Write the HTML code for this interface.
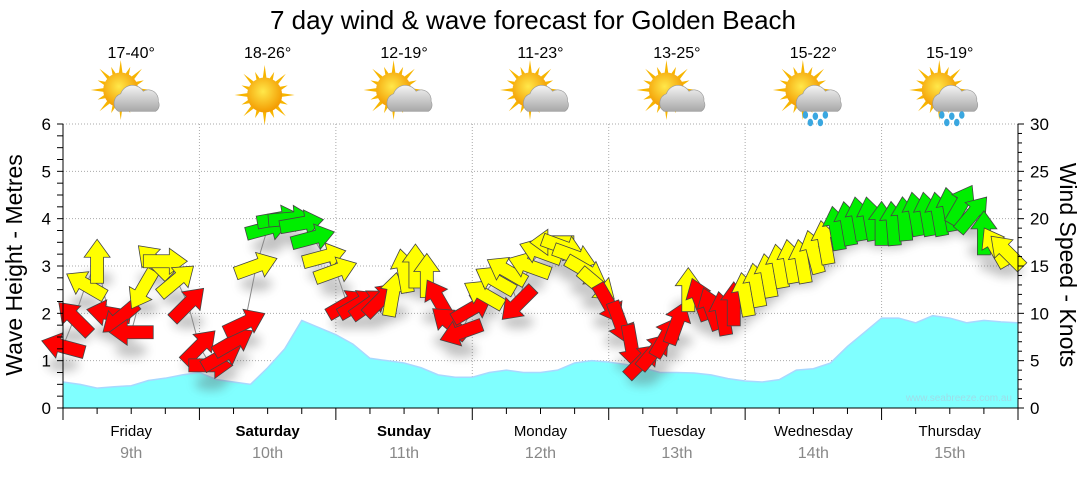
<!DOCTYPE html>
<html><head><meta charset="utf-8">
<style>
html,body{margin:0;padding:0;background:#fff;}
body{width:1080px;height:475px;overflow:hidden;font-family:"Liberation Sans",Arial,sans-serif;}
</style></head>
<body>
<svg id="chart" width="1080" height="475" viewBox="0 0 1080 475" xmlns="http://www.w3.org/2000/svg" font-family="Liberation Sans, Arial, sans-serif">
<defs>
<filter id="sh" x="-50%" y="-50%" width="200%" height="200%"><feGaussianBlur stdDeviation="5"/></filter>
<radialGradient id="sun" cx="45%" cy="40%" r="60%"><stop offset="0" stop-color="#ffe84a"/><stop offset="1" stop-color="#f39a00"/></radialGradient>
<linearGradient id="cloud" x1="0" y1="0" x2="0" y2="1"><stop offset="0" stop-color="#f4f4f4"/><stop offset="1" stop-color="#a8a8a8"/></linearGradient>
</defs>
<text x="533" y="29" font-size="26" text-anchor="middle" fill="#000">7 day wind &amp; wave forecast for Golden Beach</text>
<g id="grid"></g>
<g id="wave"></g>
<g id="windg"></g>
<g id="axes"></g>
<g id="icons"></g>
<text transform="translate(22,265) rotate(-90)" font-size="23" text-anchor="middle">Wave Height - Metres</text>
<text transform="translate(1060,265) rotate(90)" font-size="23" text-anchor="middle">Wind Speed - Knots</text>
<text x="1012" y="401" font-size="10" text-anchor="end" fill="#9edde8">www.seabreeze.com.au</text>
</svg>
<script>
const days=["Friday","Saturday","Sunday","Monday","Tuesday","Wednesday","Thursday"];
const dates=["9th","10th","11th","12th","13th","14th","15th"];
const temps=["17-40°","18-26°","12-19°","11-23°","13-25°","15-22°","15-19°"];
const weather=["cloudsun","sun","cloudsun","cloudsun","cloudsun","rain","rain"];
const boldDays=[false,true,true,false,false,false,false];
// wave height metres, every 3 hours
const waveHeight=[0.55,0.5,0.42,0.45,0.47,0.58,0.63,0.7,0.75,0.6,0.55,0.5,0.85,1.25,1.85,1.7,1.55,1.35,1.05,1.0,0.95,0.85,0.7,0.65,0.65,0.75,0.8,0.75,0.75,0.8,0.95,1.0,0.97,0.92,0.85,0.75,0.75,0.74,0.7,0.62,0.57,0.55,0.6,0.8,0.83,0.95,1.3,1.6,1.9,1.9,1.8,1.95,1.9,1.8,1.85,1.82,1.8];
// wind speed knots, every 2 hours
const windSpeed=[6.5,9.5,13,15.5,10,9.5,8,12.5,15.5,15.5,13.5,11,
6.5,4.5,5.5,7,9,15,19,20,20,19.5,18,16,
14.5,11,11,11,11.5,12,14.5,15,14,11.5,9,8,
10.5,12,13.5,14.5,11,15,16.5,17.5,17,16,14.5,13,
11,9,6.5,5,6,7.5,9,12.5,11.5,10.5,10,11,
12,13,14,15,15.5,15.5,16.5,17.5,19,19.5,20,20,
19.5,19.5,20,20.5,20.5,20.5,21,21.5,20.5,18.5,17,16.5];
// arrow direction, screen degrees (0 = right, -90 = up)
const windDir=[-165,-135,-150,-90,-170,140,180,120,-135,0,-40,-45,
-45,0,-30,-30,-25,-20,-15,-10,-5,-10,-15,-15,
-20,-30,-30,-35,-45,-80,-100,-90,-90,-120,-140,160,
-30,-150,-150,-150,135,-160,-160,180,20,20,30,40,
60,70,80,-45,-50,-60,-70,-90,-110,-110,-100,-90,
-100,-100,-100,-100,-100,-100,-105,-100,-100,-100,-100,-100,
-90,-95,-95,-100,-100,-100,-100,-60,-50,-90,-120,-135];
const yTicksL=[0,1,2,3,4,5,6];
const yTicksR=[0,5,10,15,20,25,30];

const NS="http://www.w3.org/2000/svg";
const X0=63,X1=1018,Y0=408,Y1=124;
const dayW=(X1-X0)/7;
const xH=h=>X0+h*(X1-X0)/168;
const yM=m=>Y0-m*(Y0-Y1)/6;
const yK=k=>Y0-k*(Y0-Y1)/30;
function mk(tag,attrs,parent){const e=document.createElementNS(NS,tag);for(const k in attrs)e.setAttribute(k,attrs[k]);parent.appendChild(e);return e;}

const grid=document.getElementById('grid'),axes=document.getElementById('axes');
yTicksL.forEach(v=>{if(v>0){const g=mk('line',{x1:X0,x2:X1,y1:yM(v),y2:yM(v),stroke:'#aaa','stroke-dasharray':'1,2'},grid);

}
const t=mk('text',{x:X0-12,y:yM(v)+6,'font-size':17,'text-anchor':'end'},axes);t.textContent=v;

});
yTicksR.forEach(v=>{const t=mk('text',{x:X1+12,y:yK(v)+6,'font-size':17},axes);t.textContent=v;

});
for(let d=1;d<7;d++){const g=mk('line',{x1:X0+d*dayW,x2:X0+d*dayW,y1:Y1,y2:Y0,stroke:'#aaa','stroke-dasharray':'1,2'},grid);

}
const wave=document.getElementById('wave');
let pts=waveHeight.map((v,i)=>xH(i*3)+','+yM(v));
const area=mk('polygon',{points:X0+','+Y0+' '+pts.join(' ')+' '+X1+','+Y0,fill:'#80ffff'},wave);


const wl=mk('polyline',{points:pts.join(' '),fill:'none',stroke:'#a8d8ff','stroke-width':1.5},wave);


mk('line',{x1:X0,x2:X0,y1:Y1,y2:Y0,stroke:'#000'},axes);
mk('line',{x1:X1,x2:X1,y1:Y1,y2:Y0,stroke:'#000'},axes);
mk('line',{x1:X0,x2:X1,y1:Y0,y2:Y0,stroke:'#000'},axes);
for(let i=0;i<=24;i++){mk('line',{x1:X0-6,x2:X0,y1:yM(i*0.25),y2:yM(i*0.25),stroke:'#000'},axes);}
for(let i=0;i<=30;i++){mk('line',{x1:X1,x2:X1+(i%5?4:6),y1:yK(i),y2:yK(i),stroke:'#000'},axes);}
for(let i=0;i<=28;i++){mk('line',{x1:xH(i*6),x2:xH(i*6),y1:Y0,y2:Y0+(i%4?6:12),stroke:'#000'},axes);}
days.forEach((d,i)=>{const cx=X0+dayW*(i+0.5);
const t=mk('text',{x:cx,y:436,'font-size':15,'text-anchor':'middle','font-weight':boldDays[i]?'bold':'normal'},axes);t.textContent=d;


const t2=mk('text',{x:cx,y:458,'font-size':16,'text-anchor':'middle',fill:'#888'},axes);t2.textContent=dates[i];


const t3=mk('text',{x:cx,y:58,'font-size':16,'text-anchor':'middle'},axes);t3.textContent=temps[i];

});
const icons=document.getElementById('icons');
weather.forEach((w,i)=>{const cx=X0+dayW*(i+0.5)-3,cy=95;
const g=mk('g',{transform:`translate(${cx},${cy}) scale(1.25) translate(${-cx},${-cy})`},icons);


const sx=w==='sun'?cx:cx-6,sy=w==='sun'?cy:cy-4;
for(let k=0;k<16;k++){const a=k*Math.PI/8,r1=13,r2=k%2?20:24;
mk('polygon',{points:(sx+Math.cos(a-0.12)*r1)+','+(sy+Math.sin(a-0.12)*r1)+' '+(sx+Math.cos(a)*r2)+','+(sy+Math.sin(a)*r2)+' '+(sx+Math.cos(a+0.12)*r1)+','+(sy+Math.sin(a+0.12)*r1),fill:'#f7b500'},g);}
mk('circle',{cx:sx,cy:sy,r:14,fill:'url(#sun)'},g);
if(w!=='sun'){mk('path',{d:`M${cx-8},${cy+13} a8,8 0 0 1 2,-14 a10,10 0 0 1 18,-2 a8,8 0 0 1 12,8 a6,6 0 0 1 -2,8 z`,fill:'url(#cloud)',stroke:'#999','stroke-width':0.5},g);}
if(w==='rain'){[[-4,16],[4,17],[12,16],[0,22],[8,22]].forEach(p=>mk('ellipse',{cx:cx+p[0],cy:cy+p[1],rx:2.2,ry:3,fill:'#3aa7e0'},g));}
});
const windg=document.getElementById('windg');
const wp=windSpeed.map((v,i)=>[xH(i*2),yK(v)]);
const shadow=mk('g',{filter:'url(#sh)',opacity:0.35},windg);
wp.forEach(p=>mk('ellipse',{cx:p[0],cy:p[1]+18,rx:16,ry:7,fill:'#555'},shadow));
const cl=mk('polyline',{points:wp.map(p=>p.join(',')).join(' '),fill:'none',stroke:'#888','stroke-width':1},windg);


const shape="-22,-6.5 4,-6.5 4,-13 22,0 4,13 4,6.5 -22,6.5";
windSpeed.forEach((v,i)=>{const col=v<12?'#ff0000':(v<17.7?'#ffff00':'#00ee00');
const a=mk('polygon',{points:shape,fill:col,stroke:'#444','stroke-width':0.8,transform:`translate(${xH(i*2)},${yK(v)}) rotate(${windDir[i]})`},windg);

});
</script>
</body></html>
